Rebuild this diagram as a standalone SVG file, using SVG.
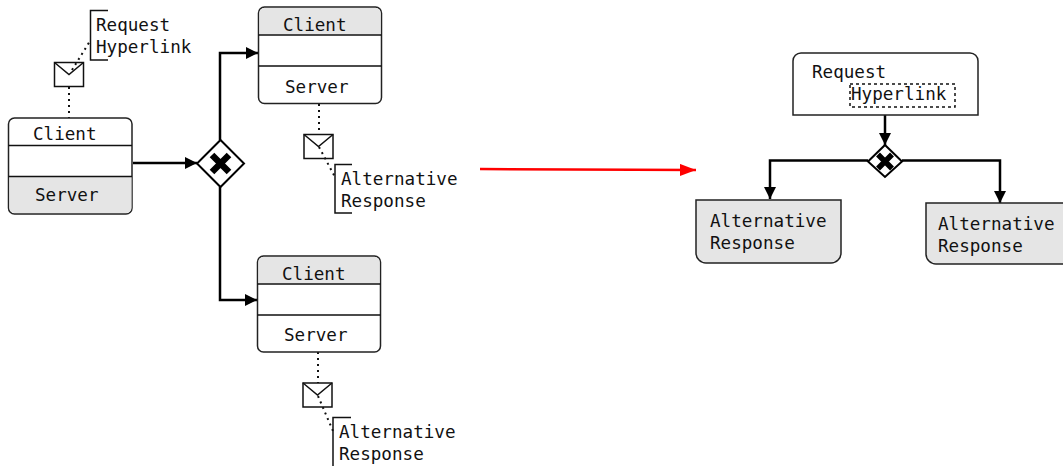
<svg xmlns="http://www.w3.org/2000/svg" width="1063" height="466" viewBox="0 0 1063 466">
<style>
text{font-family:"DejaVu Sans Mono","Liberation Mono",monospace;font-size:17.6px;fill:#111}
.b{fill:#fff;stroke:#222;stroke-width:1.5}
.g{fill:#e5e5e5;stroke:none}
.l{fill:none;stroke:#111;stroke-width:1.5}
.d{fill:none;stroke:#111;stroke-width:2;stroke-dasharray:2 4}
.c{fill:none;stroke:#000;stroke-width:2.5}
.x{stroke:#000;fill:none}
</style>
<defs>
<marker id="a" markerUnits="userSpaceOnUse" markerWidth="14" markerHeight="12" refX="12" refY="6" orient="auto"><path d="M0 0L12 6L0 12z" fill="#000"/></marker>
<marker id="r" markerUnits="userSpaceOnUse" markerWidth="16" markerHeight="12" refX="16" refY="6" orient="auto"><path d="M0 0L16 6L0 12z" fill="#f00"/></marker>
<g id="env"><rect class="l" x="0" y="0" width="29" height="24" fill="#fff"/><path class="l" d="M0 0L14.500 12L29 0"/></g>
</defs>
<g id="connectors">
<path class="d" d="M69 87V118M72 70L90 41"/>
<path class="d" d="M319 104V135M319 147L335 177"/>
<path class="d" d="M318 352V383M318 396L333 431"/>
<path class="c" d="M133 163H197" marker-end="url(#a)"/>
<path class="c" d="M220 140V53H258" marker-end="url(#a)"/>
<path class="c" d="M220 187V300H257" marker-end="url(#a)"/>
<path d="M480 169L696 170" fill="none" stroke="#f00" stroke-width="2.500" marker-end="url(#r)"/>
<path class="c" d="M885 115V145" marker-end="url(#a)"/>
<path class="c" d="M868 160.500H770V199" marker-end="url(#a)"/>
<path class="c" d="M902 160.500H1000V203" marker-end="url(#a)"/>
</g>
<g id="client-server-1">
<rect class="b" x="8.500" y="118" width="123.500" height="96" rx="6"/>
<path class="g" d="M9.500 177H131.500V208a5 5 0 0 1-5 5H14.500a5 5 0 0 1-5-5z"/>
<path class="l" d="M8.500 145.500H132M8.500 176.500H132"/>
<text x="33" y="140">Client</text><text x="35" y="201">Server</text>
</g>
<g id="client-server-2">
<rect class="b" x="258.500" y="7" width="123" height="96.500" rx="6"/>
<path class="g" d="M259.500 34.500V13a5 5 0 0 1 5-5H375.500a5 5 0 0 1 5 5V34.500z"/>
<path class="l" d="M258.500 35H381.500M258.500 66H381.500"/>
<text x="283" y="31">Client</text><text x="285" y="93">Server</text>
</g>
<g id="client-server-3">
<rect class="b" x="257.500" y="256" width="123" height="96" rx="6"/>
<path class="g" d="M258.500 283.500V262a5 5 0 0 1 5-5H374.500a5 5 0 0 1 5 5V283.500z"/>
<path class="l" d="M257.500 284H380.500M257.500 315H380.500"/>
<text x="282" y="280">Client</text><text x="284" y="341">Server</text>
</g>
<g id="gateway-1">
<path d="M220.500 140L244 163.500L220.500 187L197 163.500z" fill="#fff" stroke="#000" stroke-width="2"/>
<path class="x" stroke-width="6.500" d="M212 155L229 172M229 155L212 172"/>
</g>
<g id="envelope-1"><use href="#env" x="54.500" y="62.500"/></g>
<g id="envelope-2"><use href="#env" x="304" y="134.500"/></g>
<g id="envelope-3"><use href="#env" x="303" y="383"/></g>
<g id="note-1"><path class="l" d="M108 10.500H90.500V60H108"/><text x="96" y="31">Request</text><text x="96" y="53">Hyperlink</text></g>
<g id="note-2"><path class="l" d="M352 164.500H335V213H352"/><text x="341" y="185">Alternative</text><text x="341" y="207">Response</text></g>
<g id="note-3"><path class="l" d="M351 417.500H333V466"/><text x="339" y="438">Alternative</text><text x="339" y="460">Response</text></g>
<g id="request">
<path class="b" d="M793 115V61a8 8 0 0 1 8-8H970a8 8 0 0 1 8 8V115z"/>
<rect x="850" y="84" width="105" height="23" fill="none" stroke="#111" stroke-width="1.500" stroke-dasharray="3 3"/>
<text x="812" y="78">Request</text><text x="851" y="100">Hyperlink</text>
</g>
<g id="gateway-2">
<path d="M885 145L902 161.500L885 177L868 161.500z" fill="#fff" stroke="#000" stroke-width="2"/>
<path class="x" stroke-width="5.500" d="M878 154.500L892 168.500M892 154.500L878 168.500"/>
</g>
<g id="response-1">
<path d="M696 200H841V253a10 10 0 0 1-10 10H706a10 10 0 0 1-10-10z" fill="#e5e5e5" stroke="#222" stroke-width="1.500"/>
<text x="710" y="227">Alternative</text><text x="710" y="249">Response</text>
</g>
<g id="response-2">
<path d="M1065 203H926V254a10 10 0 0 0 10 10H1065z" fill="#e5e5e5" stroke="#222" stroke-width="1.500"/>
<text x="938" y="230">Alternative</text><text x="938" y="252">Response</text>
</g>
</svg>
